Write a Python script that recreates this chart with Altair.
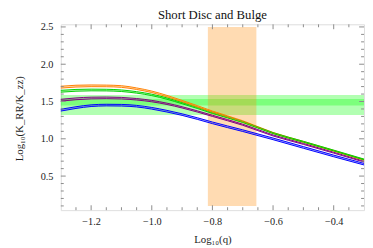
import altair as alt
import pandas as pd

# ---- data ----
x_vals = [-1.3, -1.25, -1.2, -1.15, -1.1, -1.05, -1.0, -0.95, -0.9, -0.85, -0.8, -0.7, -0.6, -0.5, -0.4, -0.3]

orange_hi = [1.705, 1.718, 1.722, 1.720, 1.712, 1.682, 1.640, 1.582, 1.515, 1.445, 1.372, 1.242, 1.085, 0.965, 0.845, 0.722]
orange_lo = [1.680, 1.694, 1.699, 1.698, 1.690, 1.661, 1.620, 1.563, 1.497, 1.428, 1.356, 1.228, 1.072, 0.953, 0.834, 0.712]
green_hi = [1.650, 1.662, 1.666, 1.664, 1.655, 1.632, 1.598, 1.548, 1.487, 1.423, 1.355, 1.232, 1.082, 0.966, 0.848, 0.728]
green_lo = [1.625, 1.638, 1.643, 1.642, 1.634, 1.612, 1.579, 1.530, 1.470, 1.407, 1.340, 1.218, 1.070, 0.955, 0.838, 0.718]
purple_hi = [1.530, 1.548, 1.558, 1.560, 1.555, 1.540, 1.515, 1.478, 1.430, 1.375, 1.316, 1.196, 1.052, 0.938, 0.820, 0.700]
purple_lo = [1.505, 1.524, 1.535, 1.538, 1.534, 1.520, 1.496, 1.460, 1.413, 1.359, 1.300, 1.181, 1.038, 0.925, 0.808, 0.688]
blue_hi = [1.396, 1.430, 1.455, 1.463, 1.461, 1.448, 1.420, 1.381, 1.335, 1.282, 1.225, 1.120, 1.010, 0.895, 0.781, 0.670]
blue_lo = [1.372, 1.407, 1.433, 1.441, 1.439, 1.427, 1.398, 1.359, 1.314, 1.261, 1.203, 1.098, 0.988, 0.873, 0.759, 0.649]

band_names = ["orange", "green", "purple", "blue"]
band_colors = ["#FF8000", "#00D000", "#800080", "#0000FF"]

# horizontal observational bands (outer and inner)
hband_lo = [1.320, 1.445]
hband_hi = [1.587, 1.535]
# vertical band in log10(q)
vband_x = [-0.815]
vband_x2 = [-0.655]
vband_y = [0.1]
vband_y2 = [2.5]

x_major = [-1.2, -1.0, -0.8, -0.6, -0.4]
x_minor = [-1.25, -1.15, -1.1, -1.05, -0.95, -0.9, -0.85, -0.75, -0.7, -0.65,
           -0.55, -0.5, -0.45, -0.35]
y_major = [0.5, 1.0, 1.5, 2.0, 2.5]
y_minor = [0.1, 0.2, 0.3, 0.4, 0.6, 0.7, 0.8, 0.9, 1.1, 1.2, 1.3, 1.4, 1.6, 1.7, 1.8,
           1.9, 2.1, 2.2, 2.3, 2.4]

W, H = 310, 190
FONT = "Liberation Serif"
GRAY = "#8a8a8a"
XTITLE = "Log₁₀(q)"
YTITLE = "Log₁₀(K_RR/K_zz)"

rows = []
his = [orange_hi, green_hi, purple_hi, blue_hi]
los = [orange_lo, green_lo, purple_lo, blue_lo]
for name, hi, lo in zip(band_names, his, los):
    for xv, h, l in zip(x_vals, hi, lo):
        rows.append({"band": name, "x": xv, "hi": h, "lo": l})
df = pd.DataFrame(rows)
df_lines = pd.concat([
    df.assign(edge="hi", y=df["hi"]),
    df.assign(edge="lo", y=df["lo"]),
])

xs = alt.Scale(domain=[-1.3, -0.3], nice=False, zero=False)
ys = alt.Scale(domain=[0.043, 2.535], nice=False, zero=False)
cscale = alt.Scale(domain=band_names, range=band_colors)

hb = pd.DataFrame({"lo": hband_lo, "hi": hband_hi})
vb = pd.DataFrame({"x": vband_x, "x2": vband_x2, "y": vband_y, "y2": vband_y2})

AX = alt.Axis(values=x_major, format=".1f", ticks=False, domain=False, grid=False,
              labelFont=FONT, labelFontSize=10.5, labelColor="#222", labelPadding=7,
              title=XTITLE, titleFont=FONT, titleFontSize=11, titleFontWeight="normal",
              titleColor="#222", titlePadding=7)
AY = alt.Axis(values=y_major, format=".1f", ticks=False, domain=False, grid=False,
              labelFont=FONT, labelFontSize=10.5, labelColor="#222", labelPadding=8,
              title=YTITLE, titleFont=FONT, titleFontSize=11,
              titleFontWeight="normal", titleColor="#222", titleAngle=-90,
              titleX=-42, titleY=96, titleAlign="center", titleBaseline="middle")


def X(field):
    return alt.X(field, scale=xs, axis=AX, title=XTITLE)


def Y(field):
    return alt.Y(field, scale=ys, axis=AY, title=YTITLE)


# horizontal bands (full width)
hbands = alt.Chart(hb).mark_rect(color="#00FF00", opacity=0.3).encode(
    x=alt.value(0), x2=alt.value(W),
    y=Y("hi:Q"), y2="lo:Q",
)

vband = alt.Chart(vb).mark_rect(color="#FF8800", opacity=0.3).encode(
    x=X("x:Q"), x2="x2:Q",
    y=Y("y:Q"), y2="y2:Q",
)

areas = alt.Chart(df).mark_area(opacity=0.3, interpolate="monotone").encode(
    x=X("x:Q"),
    y=Y("hi:Q"), y2="lo:Q",
    color=alt.Color("band:N", scale=cscale, legend=None),
)

lines = alt.Chart(df_lines).mark_line(strokeWidth=1, interpolate="monotone").encode(
    x=X("x:Q"),
    y=Y("y:Q"),
    color=alt.Color("band:N", scale=cscale, legend=None),
    detail="edge:N",
)


def xticks(vals, length):
    d = pd.DataFrame({"t": vals})
    bot = alt.Chart(d).mark_rule(color=GRAY, strokeWidth=1).encode(
        x=X("t:Q"), y=alt.value(H), y2=alt.value(H - length))
    top = alt.Chart(d).mark_rule(color=GRAY, strokeWidth=1).encode(
        x=X("t:Q"), y=alt.value(0), y2=alt.value(length))
    return [bot, top]


def yticks(vals, length):
    d = pd.DataFrame({"t": vals})
    left = alt.Chart(d).mark_rule(color=GRAY, strokeWidth=1).encode(
        y=Y("t:Q"), x=alt.value(0), x2=alt.value(length))
    right = alt.Chart(d).mark_rule(color=GRAY, strokeWidth=1).encode(
        y=Y("t:Q"), x=alt.value(W), x2=alt.value(W - length))
    return [left, right]


tick_layers = xticks(x_major, 5) + xticks(x_minor, 3) + yticks(y_major, 5) + yticks(y_minor, 3)

chart = alt.layer(hbands, vband, areas, lines, *tick_layers).properties(
    width=W, height=H,
    title=alt.TitleParams("Short Disc and Bulge", font=FONT, fontSize=13, fontWeight="normal",
                          color="#111", anchor="middle", offset=0),
    autosize=alt.AutoSizeParams(type="none"),
    padding={"left": 54, "top": 14, "right": 1, "bottom": 36},
).configure_view(stroke=GRAY, strokeWidth=1).configure(background="white")

chart.save("out.html", embed_options={"renderer": "svg", "actions": False})
